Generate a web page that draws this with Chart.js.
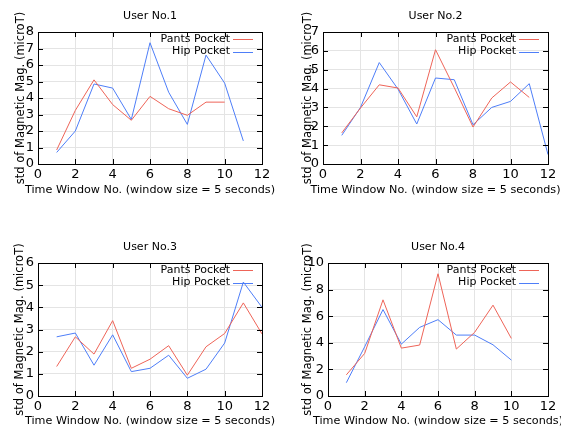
<!DOCTYPE html>
<html>
<head>
<meta charset="utf-8">
<script src="https://cdn.jsdelivr.net/npm/chart.js@4.4.1/dist/chart.umd.min.js"></script>
<style>
  html, body { margin: 0; padding: 0; background: #fff; }
  #wrap { position: relative; width: 561px; height: 428px; overflow: hidden; }
  .panel { position: absolute; }
</style>
</head>
<body>
<div id="wrap">
  <div class="panel" style="left:0;top:0"><canvas id="user1" width="280" height="214"></canvas></div>
  <div class="panel" style="left:280px;top:0"><canvas id="user2" width="281" height="214"></canvas></div>
  <div class="panel" style="left:0;top:214px"><canvas id="user3" width="280" height="214"></canvas></div>
  <div class="panel" style="left:280px;top:214px"><canvas id="user4" width="281" height="214"></canvas></div>
</div>
<script>
// window numbers (x values)
const windowNo = [1, 2, 3, 4, 5, 6, 7, 8, 9, 10, 11, 12];
const seriesNames = ['Pants Pocket', 'Hip Pocket'];
const xTicks = [0, 2, 4, 6, 8, 10, 12];
const xTitle = 'Time Window No. (window size = 5 seconds)';
const yTitle = 'std of Magnetic Mag. (microT)';

// std of magnetic magnitude per window
const user1Pants = [0.85, 3.25, 5.1, 3.6, 2.65, 4.1, 3.35, 2.95, 3.75, 3.75];
const user1Hip   = [0.7, 2.0, 4.85, 4.6, 2.7, 7.35, 4.35, 2.4, 6.6, 4.9, 1.4];
const user2Pants = [1.65, 2.97, 4.2, 4.03, 2.5, 6.06, 4.05, 1.96, 3.5, 4.35, 3.53];
const user2Hip   = [1.52, 3.0, 5.38, 3.97, 2.12, 4.56, 4.47, 2.08, 3.0, 3.32, 4.26, 0.5];
const user3Pants = [1.33, 2.67, 1.89, 3.4, 1.25, 1.66, 2.27, 0.94, 2.22, 2.82, 4.2, 2.8];
const user3Hip   = [2.67, 2.84, 1.39, 2.76, 1.1, 1.25, 1.84, 0.8, 1.21, 2.39, 5.14, 4.0];
const user4Pants = [1.59, 3.2, 7.23, 3.6, 3.83, 9.19, 3.53, 4.79, 6.83, 4.33];
const user4Hip   = [1.0, 3.7, 6.5, 3.9, 5.16, 5.74, 4.58, 4.58, 3.85, 2.7];

const pantsColor = 'rgb(238, 100, 88)';
const hipColor = 'rgb(78, 126, 248)';
const fontFamily = '"DejaVu Sans", sans-serif';

Chart.defaults.font.family = fontFamily;
Chart.defaults.color = '#000';

function toPoints(values) {
    return values.map((v, i) => ({ x: windowNo[i], y: v }));
}

function tickList(max, step) {
    const out = [];
    for (let v = 0; v <= max; v += step) out.push({ value: v });
    return out;
}

// border box and inward tick marks, gnuplot style
const framePlugin = {
    id: 'frame',
    afterDatasetsDraw(chart) {
        const { ctx, chartArea: a, scales } = chart;
        ctx.save();
        ctx.strokeStyle = '#000';
        ctx.lineWidth = 1;
        ctx.beginPath();
        scales.y.ticks.forEach(t => {
            const y = Math.round(scales.y.getPixelForValue(t.value)) + 0.5;
            ctx.moveTo(a.left, y); ctx.lineTo(a.left + 5, y);
            ctx.moveTo(a.right, y); ctx.lineTo(a.right - 5, y);
        });
        scales.x.ticks.forEach(t => {
            const x = Math.round(scales.x.getPixelForValue(t.value)) + 0.5;
            ctx.moveTo(x, a.bottom); ctx.lineTo(x, a.bottom - 5);
            ctx.moveTo(x, a.top); ctx.lineTo(x, a.top + 5);
        });
        ctx.stroke();
        ctx.strokeRect(Math.round(a.left) + 0.5, Math.round(a.top) + 0.5,
            Math.round(a.right - a.left), Math.round(a.bottom - a.top));
        ctx.restore();
    }
};

// legend drawn inside the top right corner
const keyPlugin = {
    id: 'key',
    afterDatasetsDraw(chart) {
        const { ctx, chartArea: a } = chart;
        ctx.save();
        ctx.font = '11px ' + fontFamily;
        ctx.textAlign = 'right';
        ctx.textBaseline = 'middle';
        chart.data.datasets.forEach((ds, i) => {
            const y = a.top + 7 + i * 12.5;
            ctx.fillStyle = '#000';
            ctx.fillText(ds.label, a.right - 32, y);
            ctx.strokeStyle = ds.borderColor;
            ctx.lineWidth = 1;
            ctx.beginPath();
            ctx.moveTo(a.right - 29, Math.round(y) + 0.5);
            ctx.lineTo(a.right - 9, Math.round(y) + 0.5);
            ctx.stroke();
        });
        ctx.restore();
    }
};

// x axis title, drawn by hand so it is not squeezed to the plot width
const xTitlePlugin = {
    id: 'xTitle',
    afterDraw(chart, args, opts) {
        const { ctx, chartArea: a } = chart;
        ctx.save();
        ctx.font = '11.2px ' + fontFamily;
        ctx.fillStyle = '#000';
        ctx.textAlign = 'center';
        ctx.textBaseline = 'middle';
        ctx.fillText(xTitle, (a.left + a.right) / 2, opts.y);
        ctx.restore();
    }
};

// box = plot area inside the canvas plus title positions
function makeChart(id, title, pants, hip, yMax, yStep, box) {
    const canvas = document.getElementById(id);
    const W = canvas.width, H = canvas.height;
    return new Chart(canvas, {
        type: 'line',
        data: {
            datasets: [
                { label: seriesNames[0], data: toPoints(pants), borderColor: pantsColor, borderWidth: 1, pointRadius: 0, tension: 0, fill: false },
                { label: seriesNames[1], data: toPoints(hip), borderColor: hipColor, borderWidth: 1, pointRadius: 0, tension: 0, fill: false }
            ]
        },
        options: {
            responsive: false,
            animation: false,
            events: [],
            layout: { padding: { left: 0, right: W - box.right, top: 0, bottom: 0 } },
            plugins: {
                legend: { display: false },
                tooltip: { enabled: false },
                xTitle: { y: box.xTitleY },
                title: {
                    display: true,
                    fullSize: false,
                    text: title,
                    color: '#000',
                    font: { size: 11, weight: 'normal', lineHeight: 1.2 },
                    padding: { top: box.titleY - 6.6, bottom: box.top - box.titleY - 6.6 }
                }
            },
            scales: {
                x: {
                    type: 'linear',
                    min: 0,
                    max: 12,
                    afterBuildTicks: scale => { scale.ticks = xTicks.map(v => ({ value: v })); },
                    afterFit: scale => { scale.height = H - box.bottom; },
                    grid: { color: '#e4e4e4', drawTicks: false },
                    border: { display: false },
                    ticks: { font: { size: 13 }, padding: 3, maxRotation: 0, autoSkip: false, color: '#000' }
                },
                y: {
                    min: 0,
                    max: yMax,
                    afterBuildTicks: scale => { scale.ticks = tickList(yMax, yStep); },
                    afterFit: scale => { scale.width = box.left; },
                    grid: { color: '#e4e4e4', drawTicks: false },
                    border: { display: false },
                    ticks: { font: { size: 13 }, padding: 4, autoSkip: false, color: '#000' },
                    title: {
                        display: true,
                        text: yTitle,
                        font: { size: 11.5 },
                        padding: { top: box.yTitleX - 6.9, bottom: 0 },
                        color: '#000'
                    }
                }
            }
        },
        plugins: [framePlugin, keyPlugin, xTitlePlugin]
    });
}

makeChart('user1', 'User No.1', user1Pants, user1Hip, 8, 1,
    { left: 38, right: 262, top: 32, bottom: 164, titleY: 16, xTitleY: 190, yTitleX: 21 });
makeChart('user2', 'User No.2', user2Pants, user2Hip, 7, 1,
    { left: 43, right: 268, top: 32, bottom: 164, titleY: 16, xTitleY: 190, yTitleX: 28 });
makeChart('user3', 'User No.3', user3Pants, user3Hip, 6, 1,
    { left: 38, right: 262, top: 49, bottom: 182, titleY: 33, xTitleY: 207, yTitleX: 20.5 });
makeChart('user4', 'User No.4', user4Pants, user4Hip, 10, 2,
    { left: 48, right: 268, top: 49, bottom: 182, titleY: 33, xTitleY: 207, yTitleX: 28 });
</script>
</body>
</html>
